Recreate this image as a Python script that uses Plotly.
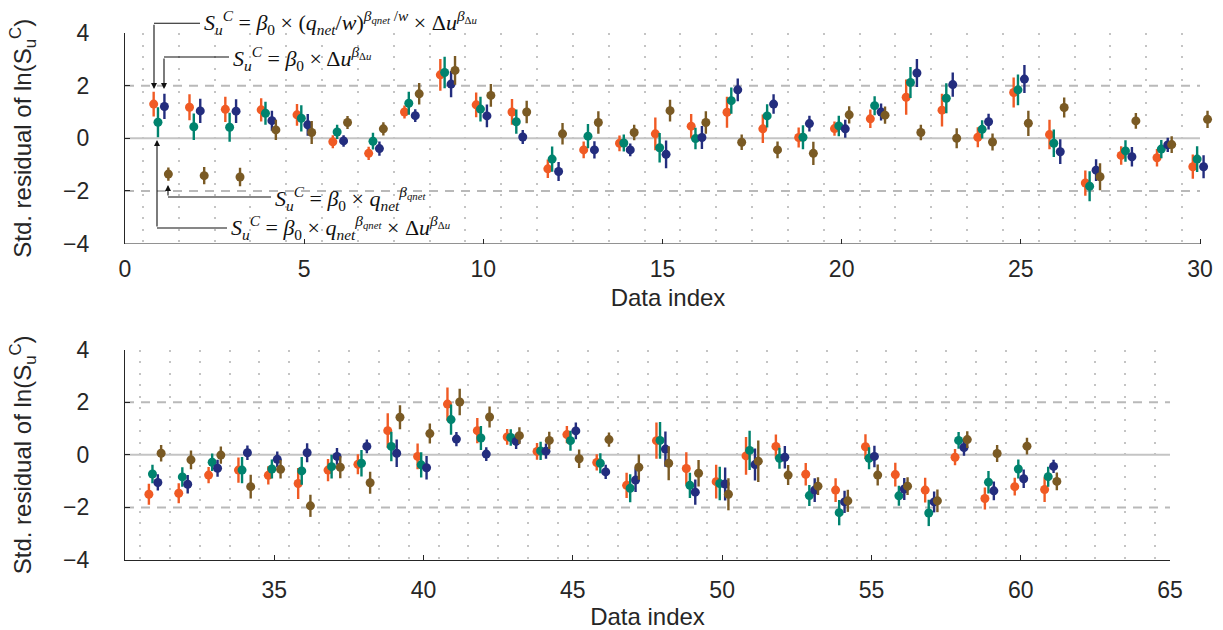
import plotly.graph_objects as go

# ---------------- data ----------------
idx_top = list(range(1, 31))
idx_bot = list(range(31, 62))

series_names = [
    "S_u^C = b0 x (q_net/w)^(b_qnet/w) x du^b_du",
    "S_u^C = b0 x q_net^b_qnet x du^b_du",
    "S_u^C = b0 x du^b_du",
    "S_u^C = b0 x q_net^b_qnet",
]
series_colors = ["#F05A24", "#00836E", "#232D7E", "#7A5A24"]
series_offsets = [-0.2, -0.08, 0.1, 0.21]

top_orange = [1.30, 1.18, 1.10, 1.08, 0.89, -0.13, -0.57, 1.00, 2.41, 1.27, 1.00, -1.16, -0.44, -0.19, 0.17,
              0.46, 0.99, 0.36, 0.03, 0.37, 0.74, 1.56, 1.07, 0.04, 1.74, 0.14, -1.70, -0.65, -0.74, -1.08]
top_orange_err = [0.47, 0.49, 0.48, 0.44, 0.41, 0.25, 0.25, 0.25, 0.60, 0.47, 0.49, 0.35, 0.32, 0.30, 0.62,
                  0.46, 0.59, 0.54, 0.38, 0.27, 0.35, 0.67, 0.62, 0.38, 0.57, 0.56, 0.48, 0.35, 0.33, 0.46]
top_green = [0.61, 0.44, 0.42, 0.95, 0.76, 0.24, -0.11, 1.33, 2.50, 1.11, 0.63, -0.79, 0.08, -0.18, -0.36,
             -0.01, 1.43, 0.85, 0.04, 0.47, 1.24, 2.12, 1.52, 0.34, 1.84, -0.19, -1.82, -0.48, -0.41, -0.79]
top_green_err = [0.57, 0.50, 0.55, 0.44, 0.50, 0.27, 0.32, 0.44, 0.60, 0.47, 0.46, 0.48, 0.46, 0.32, 0.56,
                 0.41, 0.50, 0.44, 0.46, 0.39, 0.36, 0.59, 0.57, 0.35, 0.58, 0.52, 0.57, 0.41, 0.35, 0.49]
top_navy = [1.21, 1.04, 1.03, 0.67, 0.51, -0.10, -0.39, 0.86, 2.06, 0.85, 0.05, -1.26, -0.44, -0.44, -0.61,
            0.03, 1.84, 1.30, 0.56, 0.36, 1.00, 2.48, 2.04, 0.63, 2.25, -0.51, -1.21, -0.70, -0.25, -1.08]
top_navy_err = [0.48, 0.46, 0.45, 0.38, 0.41, 0.22, 0.27, 0.24, 0.50, 0.43, 0.27, 0.36, 0.33, 0.24, 0.53,
                0.44, 0.43, 0.37, 0.30, 0.34, 0.32, 0.53, 0.46, 0.30, 0.53, 0.47, 0.41, 0.37, 0.27, 0.44]
top_brown = [-1.36, -1.42, -1.47, 0.32, 0.22, 0.60, 0.36, 1.69, 2.58, 1.63, 1.00, 0.17, 0.60, 0.22, 1.05,
             0.60, -0.15, -0.44, -0.57, 0.89, 0.88, 0.22, 0.00, -0.14, 0.57, 1.17, -1.46, 0.66, -0.24, 0.72]
top_brown_err = [0.25, 0.33, 0.35, 0.38, 0.44, 0.25, 0.25, 0.41, 0.55, 0.43, 0.43, 0.41, 0.43, 0.29, 0.41,
                 0.43, 0.29, 0.32, 0.44, 0.33, 0.33, 0.29, 0.38, 0.32, 0.48, 0.38, 0.51, 0.30, 0.32, 0.33]

bot_orange = [-1.50, -1.46, -0.77, -0.58, -0.78, -1.09, -0.58, -0.36, 0.92, -0.06, 1.93, 0.92, 0.68, 0.13, 0.77, -0.29,
              -1.16, 0.54, -0.52, -1.02, -0.04, 0.32, -0.74, -1.34, 0.31, -0.75, -1.34, -0.09, -1.66, -1.21, -1.32]
bot_orange_err = [0.40, 0.38, 0.31, 0.48, 0.35, 0.59, 0.42, 0.38, 0.66, 0.49, 0.63, 0.48, 0.30, 0.32, 0.33, 0.31,
                  0.48, 0.69, 0.62, 0.64, 0.72, 0.45, 0.43, 0.45, 0.47, 0.45, 0.47, 0.31, 0.42, 0.34, 0.47]
bot_green = [-0.73, -0.84, -0.28, -0.58, -0.54, -0.61, -0.45, -0.32, 0.32, -0.38, 1.34, 0.64, 0.66, 0.15, 0.54, -0.32,
             -1.27, 0.55, -1.16, -1.09, 0.17, -0.13, -1.55, -2.20, -0.13, -1.56, -2.21, 0.55, -1.04, -0.54, -0.83]
bot_green_err = [0.35, 0.37, 0.33, 0.50, 0.36, 0.53, 0.45, 0.50, 0.56, 0.48, 0.58, 0.46, 0.31, 0.35, 0.38, 0.38,
                 0.53, 0.70, 0.48, 0.64, 0.75, 0.40, 0.40, 0.48, 0.42, 0.38, 0.50, 0.32, 0.43, 0.36, 0.38]
bot_navy = [-1.05, -1.12, -0.51, 0.08, -0.17, 0.08, -0.06, 0.32, 0.06, -0.49, 0.60, 0.03, 0.51, 0.14, 0.91, -0.65,
            -0.96, 0.22, -1.42, -1.11, -0.37, -0.09, -1.34, -1.79, -0.06, -1.30, -1.79, 0.28, -1.37, -0.91, -0.44]
bot_navy_err = [0.31, 0.35, 0.32, 0.28, 0.30, 0.36, 0.32, 0.26, 0.52, 0.45, 0.27, 0.26, 0.29, 0.29, 0.32, 0.27,
                0.45, 0.67, 0.48, 0.63, 0.61, 0.43, 0.45, 0.42, 0.41, 0.42, 0.40, 0.31, 0.36, 0.35, 0.25]
bot_brown = [0.06, -0.19, -0.01, -1.21, -0.55, -1.94, -0.47, -1.06, 1.43, 0.81, 2.01, 1.44, 0.73, 0.55, -0.15, 0.58,
             -0.47, -0.32, -0.70, -1.50, -0.24, -0.77, -1.19, -1.75, -0.77, -1.19, -1.75, 0.58, 0.05, 0.33, -1.01]
bot_brown_err = [0.31, 0.36, 0.33, 0.45, 0.35, 0.42, 0.42, 0.42, 0.46, 0.38, 0.50, 0.40, 0.32, 0.33, 0.35, 0.27,
                 0.48, 0.65, 0.50, 0.61, 0.79, 0.38, 0.34, 0.42, 0.40, 0.34, 0.43, 0.32, 0.32, 0.32, 0.34]

top_x_ticks = [0, 5, 10, 15, 20, 25, 30]
bot_x_ticks = [35, 40, 45, 50, 55, 60, 65]
y_ticks = [-4, -2, 0, 2, 4]
y_tick_text = ["\u22124", "\u22122", "0", "2", "4"]

top_series = [(top_orange, top_orange_err), (top_green, top_green_err),
              (top_navy, top_navy_err), (top_brown, top_brown_err)]
bot_series = [(bot_orange, bot_orange_err), (bot_green, bot_green_err),
              (bot_navy, bot_navy_err), (bot_brown, bot_brown_err)]

# ---------------- layout geometry ----------------
W, H = 1223, 630
ML, MR, MT, MB = 125, 12, 33, 70
PW, PH = W - ML - MR, H - MT - MB
TOP_X_MAX = 30 * PW / 1075.0
TOP_DOM = [(H - MB - 243.6) / PH, 1.0]
BOT_DOM = [0.0, (H - MB - 349.7) / PH]
BOT_XDOM = [0.0, 1045.0 / PW]

def px_x(p):
    return (p - ML) / PW

def px_y(p):
    return (H - MB - p) / PH

TXT = "#262626"
fig = go.Figure()

for (vals, errs), col, off, name in zip(top_series, series_colors, series_offsets, series_names):
    fig.add_trace(go.Scatter(
        x=[i + off for i in idx_top], y=vals, mode="markers", name=name,
        marker=dict(color=col, size=9),
        error_y=dict(type="data", array=errs, visible=True, color=col, thickness=2.4, width=0),
        xaxis="x", yaxis="y", showlegend=False, cliponaxis=False))

for (vals, errs), col, off, name in zip(bot_series, series_colors, series_offsets, series_names):
    fig.add_trace(go.Scatter(
        x=[i + off for i in idx_bot], y=vals, mode="markers", name=name,
        marker=dict(color=col, size=9),
        error_y=dict(type="data", array=errs, visible=True, color=col, thickness=2.4, width=0),
        xaxis="x2", yaxis="y2", showlegend=False, cliponaxis=False))

axis_font = dict(family="Liberation Sans, Arial, sans-serif", size=23, color=TXT)
title_font = dict(family="Liberation Sans, Arial, sans-serif", size=24, color=TXT)
minor_grid = dict(tick0=0.5, dtick=1, showgrid=True, gridcolor="#c4c4c4",
                  griddash="2px,9.5px", gridwidth=1.6, ticks="")

common_x = dict(ticks="inside", ticklen=5, tickwidth=1.2, tickcolor=TXT, showgrid=False,
                zeroline=False, tickfont=axis_font, ticklabelstandoff=9, automargin=False,
                title=dict(text="Data index", font=title_font, standoff=8), minor=minor_grid)
common_y = dict(range=[-4, 4], tickvals=y_ticks, ticktext=y_tick_text, ticks="inside", ticklen=5,
                tickwidth=1.2, tickcolor=TXT, showgrid=False, zeroline=False, showline=True,
                linecolor=TXT, linewidth=1.3, tickfont=axis_font, ticklabelstandoff=30, automargin=False,
                title=dict(text="Std. residual of ln(S<sub>u</sub><sup>C</sup>)", font=title_font, standoff=24))

fig.update_layout(
    width=W, height=H, margin=dict(l=ML, r=MR, t=MT, b=MB, autoexpand=False),
    paper_bgcolor="white", plot_bgcolor="white",
    xaxis=dict(domain=[0, 1], anchor="y", range=[0, TOP_X_MAX], tickvals=top_x_ticks,
               showline=False, **common_x),
    yaxis=dict(domain=TOP_DOM, anchor="x", **common_y),
    xaxis2=dict(domain=BOT_XDOM, anchor="y2", range=[30, 65], tickvals=bot_x_ticks,
                showline=True, linecolor=TXT, linewidth=1.3, **common_x),
    yaxis2=dict(domain=BOT_DOM, anchor="x2", **common_y),
)

shapes = []
for xr, yr, x0, x1 in [("x", "y", 0, 30), ("x2", "y2", 30, 65)]:
    for yv in (2, -2):
        shapes.append(dict(type="line", xref=xr, yref=yr, x0=x0, x1=x1, y0=yv, y1=yv, layer="below",
                           line=dict(color="#b9b9b9", width=2, dash="9px,7px")))
    shapes.append(dict(type="line", xref=xr, yref=yr, x0=x0, x1=x1, y0=0, y1=0, layer="below",
                       line=dict(color="#c4c4c4", width=2)))
# top x axis line ends at 30
shapes.append(dict(type="line", xref="x", yref="y", x0=0, x1=30, y0=-4, y1=-4,
                   line=dict(color=TXT, width=1.3)))

# formula call-outs: (text, text_left_px, text_cy_px, corner_x_px, line_y_px, tip_y_px)
f1 = ("<i>S</i><sub><i>u</i></sub><sup><i>C</i></sup> = <i>β</i><sub>0</sub> × (<i>q</i><sub><i>net</i></sub>/<i>w</i>)"
      "<sup><i>β</i><sub><i>qnet</i></sub> /<i>w</i></sup> × Δ<i>u</i><sup><i>β</i><sub>Δ<i>u</i></sub></sup>")
f2 = "<i>S</i><sub><i>u</i></sub><sup><i>C</i></sup> = <i>β</i><sub>0</sub> × Δ<i>u</i><sup><i>β</i><sub>Δ<i>u</i></sub></sup>"
f3 = "<i>S</i><sub><i>u</i></sub><sup><i>C</i></sup> = <i>β</i><sub>0</sub> × <i>q</i><sub><i>net</i></sub><sup><i>β</i><sub><i>qnet</i></sub></sup>"
f4 = ("<i>S</i><sub><i>u</i></sub><sup><i>C</i></sup> = <i>β</i><sub>0</sub> × <i>q</i><sub><i>net</i></sub>"
      "<sup><i>β</i><sub><i>qnet</i></sub></sup> × Δ<i>u</i><sup><i>β</i><sub>Δ<i>u</i></sub></sup>")
callouts = [
    (f1, 203, 23, 154, 23.3, 89),
    (f2, 232, 59, 164, 57, 89),
    (f3, 274, 198, 168, 197, 185),
    (f4, 230, 227, 157, 228, 140),
]
annotations = []
for text, tx, ty, cx, ly, tip in callouts:
    annotations.append(dict(xref="paper", yref="paper", x=px_x(tx), y=px_y(ty), text=text,
                            showarrow=False, xanchor="left", yanchor="middle", borderpad=0,
                            font=dict(family="Liberation Serif, Times New Roman, serif", size=22, color="#111")))
    shapes.append(dict(type="line", xref="paper", yref="paper", x0=px_x(cx), x1=px_x(tx - 3),
                       y0=px_y(ly), y1=px_y(ly), line=dict(color="#111", width=1.1)))
    annotations.append(dict(xref="paper", yref="paper", x=px_x(cx), y=px_y(tip), text="",
                            showarrow=True, ax=0, ay=ly - tip, arrowhead=2, arrowsize=1.1,
                            arrowwidth=1.1, arrowcolor="#111", standoff=0, startstandoff=0))

fig.update_layout(shapes=shapes, annotations=annotations)
fig.write_html("out.html")
